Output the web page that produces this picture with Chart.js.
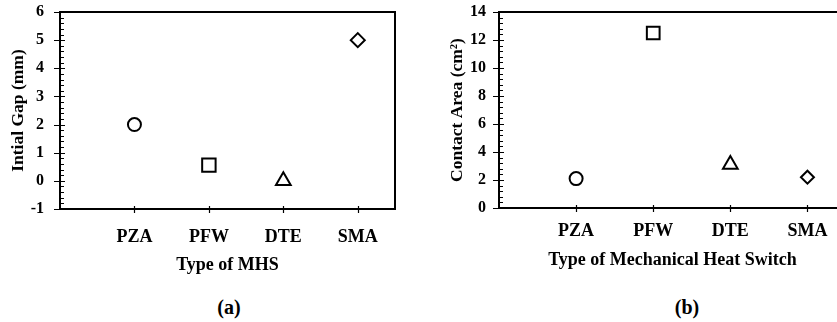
<!DOCTYPE html>
<html>
<head>
<meta charset="utf-8">
<script src="https://cdn.jsdelivr.net/npm/chart.js@4"></script>
<style>
  html, body { margin: 0; padding: 0; background: #fff; overflow: hidden; }
  body { width: 837px; height: 322px; position: relative; }
  .panel { position: absolute; top: 0; overflow: hidden; }
  .tag {
    position: absolute; top: 296px; width: 60px; margin-left: -30px; text-align: center;
    font: bold 20px 'Liberation Serif', 'Times New Roman', serif; color: #000;
  }
</style>
</head>
<body>
<div class="panel" style="left:0; width:420px; height:279px;"><canvas id="chartGap"></canvas></div>
<div class="panel" style="left:420px; width:417px; height:278px;"><canvas id="chartArea"></canvas></div>
<div class="tag" style="left:229px;">(a)</div>
<div class="tag" style="left:687px;">(b)</div>

<script>
// ── MHS comparison ──
// Initial gap and contact area for four mechanical heat switch types.

const mhsTypes = ['PZA', 'PFW', 'DTE', 'SMA'];
const initialGap = [2.0, 0.56, 0.0, 5.0];       // mm
const contactArea = [2.1, 12.5, 3.1, 2.2];      // cm²
const markerStyles = ['circle', 'rect', 'triangle', 'rectRot'];

const FONT = "'Liberation Serif', 'Times New Roman', serif";

// Frame + Excel-style tick marks (major crossing, minor inside)
const axisMarks = {
  id: 'axisMarks',
  afterDraw(chart, args, opts) {
    const { ctx, chartArea: a, scales: { x, y } } = chart;
    ctx.save();
    ctx.strokeStyle = '#000';
    ctx.lineWidth = 1.2;
    ctx.beginPath();
    const n = Math.round((y.max - y.min) / opts.minor);
    for (let i = 0; i <= n; i++) {
      const v = y.min + i * opts.minor;
      const py = Math.round(y.getPixelForValue(v)) + 0.5;
      const major = i % opts.perMajor === 0;
      ctx.moveTo(a.left - (major ? 6 : 0), py);
      ctx.lineTo(a.left + (major ? 5 : 4), py);
    }
    mhsTypes.forEach((_, i) => {
      const px = Math.round(x.getPixelForValue(i + 1)) + 0.5;
      ctx.moveTo(px, a.bottom - 3);
      ctx.lineTo(px, a.bottom + 4);
    });
    ctx.stroke();
    ctx.lineWidth = 2;
    ctx.strokeRect(a.left, a.top, a.right - a.left, a.bottom - a.top);
    ctx.restore();
  }
};

function makePanel(canvasId, size, values, yOpts, layout) {
  const canvas = document.getElementById(canvasId);
  canvas.width = size.w;
  canvas.height = size.h;

  return new Chart(canvas, {
    type: 'scatter',
    data: {
      datasets: [{
        data: values.map((v, i) => ({ x: i + 1, y: v })),
        pointStyle: markerStyles,
        pointRadius: layout.radii,
        pointHoverRadius: layout.radii,
        pointBorderWidth: 2,
        pointBorderColor: '#000',
        pointBackgroundColor: '#fff',
        showLine: false
      }]
    },
    options: {
      responsive: false,
      animation: false,
      layout: { autoPadding: false, padding: { top: 12, right: layout.right, bottom: 0, left: 0 } },
      plugins: {
        legend: { display: false },
        tooltip: { enabled: false },
        axisMarks: { minor: yOpts.minor, perMajor: yOpts.perMajor }
      },
      scales: {
        x: {
          type: 'linear',
          min: 0,
          max: 4.5,
          grid: { display: false },
          border: { display: false },
          afterFit: s => { s.height = 70; },
          ticks: {
            stepSize: 1,
            includeBounds: false,
            autoSkip: false,
            maxRotation: 0,
            padding: layout.xPad,
            color: '#000',
            font: { family: FONT, size: 18, weight: 'bold' },
            callback: v => mhsTypes[v - 1] || ''
          },
          title: {
            display: true,
            text: layout.xTitle,
            color: '#000',
            padding: { top: 0, bottom: layout.xTitlePad },
            font: { family: FONT, size: 18, weight: 'bold' }
          }
        },
        y: {
          min: yOpts.min,
          max: yOpts.max,
          grid: { display: false },
          border: { display: false },
          afterFit: s => {
            s.width = layout.yWidth;
            s.paddingTop = 0;
            s.paddingBottom = 0;
          },
          ticks: {
            stepSize: yOpts.step,
            padding: layout.yPad,
            color: '#000',
            font: { family: FONT, size: 16, weight: 'bold' }
          },
          title: {
            display: true,
            text: layout.yTitle,
            color: '#000',
            padding: { top: layout.yTitlePad, bottom: 0 },
            font: { family: FONT, size: 17.5, weight: 'bold' }
          }
        }
      }
    },
    plugins: [axisMarks]
  });
}

makePanel('chartGap', { w: 420, h: 279 }, initialGap,
  { min: -1, max: 6, step: 1, minor: 0.2, perMajor: 5 },
  { right: 25, yWidth: 60, yPad: 8, yTitlePad: 8, xPad: 10, xTitlePad: 3,
    radii: [6.5, 9.5, 8.5, 7], xTitle: 'Type of MHS', yTitle: 'Intial Gap (mm)' });

makePanel('chartArea', { w: 430, h: 278 }, contactArea,
  { min: 0, max: 14, step: 2, minor: 0.4, perMajor: 5 },
  { right: 4, yWidth: 79, yPad: 5, yTitlePad: 27, xPad: 5, xTitlePad: 7,
    radii: [6.5, 9, 8.5, 6.5], xTitle: 'Type of Mechanical Heat Switch', yTitle: 'Contact Area (cm²)' });
</script>
</body>
</html>
